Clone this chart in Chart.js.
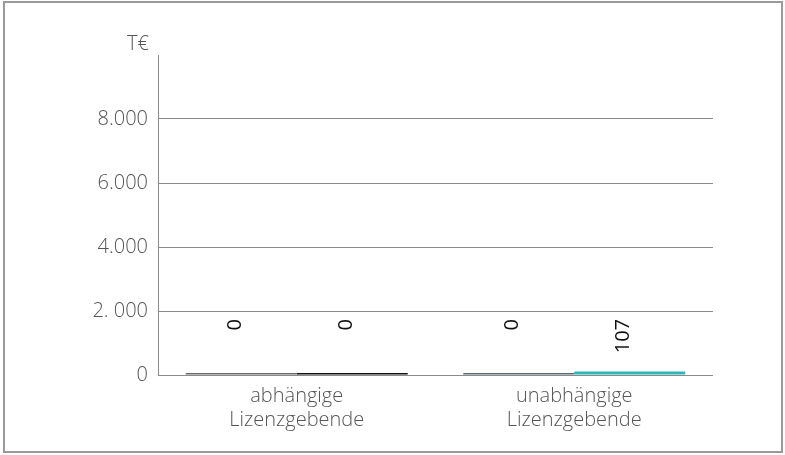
<!DOCTYPE html>
<html>
<head>
<meta charset="utf-8">
<script src="https://cdn.jsdelivr.net/npm/chart.js@4"></script>
<style>
  body { margin: 0; background: #fff; }
  #wrap { position: absolute; left: 0; top: 0; width: 785px; height: 455px; }
</style>
</head>
<body>
<div id="wrap"><canvas id="barChart"></canvas></div>
<script>
const categories = [["abhängige", "Lizenzgebende"], ["unabhängige", "Lizenzgebende"]];
const seriesA = [0, 0];
const seriesB = [0, 107];
const colorsA = ["#6b6b6b", "#5b6b74"];
const colorsB = ["#111111", "#30b6b9"];
const yTicks = { 0: "0", 2000: "2. 000", 4000: "4.000", 6000: "6.000", 8000: "8.000" };
const yUnit = "T€";

const fontFamily = "'Open Sans', 'DejaVu Sans Condensed', sans-serif";

// frame, unit label and rotated value labels
const extras = {
  id: "extras",
  beforeDraw(chart) {
    const ctx = chart.ctx;
    ctx.save();
    ctx.strokeStyle = "#9a9a9a";
    ctx.lineWidth = 2;
    ctx.strokeRect(4, 2, 778, 450);
    ctx.restore();
  },
  afterDraw(chart) {
    const ctx = chart.ctx;
    const y = chart.scales.y;
    ctx.save();
    ctx.font = "300 20px " + fontFamily;
    ctx.fillStyle = "#555";
    ctx.textAlign = "right";
    ctx.textBaseline = "middle";
    ctx.fillText(yUnit, chart.chartArea.left - 9, y.top - 11);

    ctx.font = "20px " + fontFamily;
    ctx.fillStyle = "#111";
    chart.data.datasets.forEach((ds, i) => {
      chart.getDatasetMeta(i).data.forEach((bar, j) => {
        ctx.save();
        ctx.translate(bar.x - 6, 319);
        ctx.rotate(-Math.PI / 2);
        ctx.textAlign = "right";
        ctx.textBaseline = "middle";
        ctx.fillText(String(ds.data[j]), 0, 0);
        ctx.restore();
      });
    });
    ctx.restore();
  }
};

const bar = document.getElementById("barChart");
const barChart = new Chart(bar, {
  type: "bar",
  data: {
    labels: categories,
    datasets: [
      { data: seriesA, backgroundColor: colorsA, minBarLength: 2 },
      { data: seriesB, backgroundColor: colorsB, minBarLength: 2 }
    ]
  },
  options: {
    responsive: true,
    maintainAspectRatio: false,
    animation: false,
    layout: { padding: { left: 0, right: 72, top: 55, bottom: 0 } },
    datasets: { bar: { barPercentage: 1, categoryPercentage: 0.8 } },
    plugins: {
      legend: { display: false },
      tooltip: { enabled: false }
    },
    scales: {
      x: {
        grid: { display: false, drawTicks: false },
        border: { display: false },
        ticks: {
          color: "#555",
          padding: 9,
          font: { family: fontFamily, size: 20, weight: 300, lineHeight: 1.2 },
          maxRotation: 0
        },
        afterFit(s) { s.height = 80; }
      },
      y: {
        min: 0,
        max: 10000,
        grid: {
          drawTicks: false,
          color: (c) => (c.tick && c.tick.value === 10000 ? "rgba(0,0,0,0)" : "#8a8a8a"),
          lineWidth: 1
        },
        border: { display: true, color: "#8a8a8a", width: 1 },
        ticks: {
          stepSize: 2000,
          padding: 10,
          color: "#555",
          font: { family: fontFamily, size: 20, weight: 300 },
          callback: (v) => (yTicks[v] !== undefined ? yTicks[v] : "")
        },
        afterFit(s) { s.width = 158; }
      }
    }
  },
  plugins: [extras]
});
</script>
</body>
</html>
